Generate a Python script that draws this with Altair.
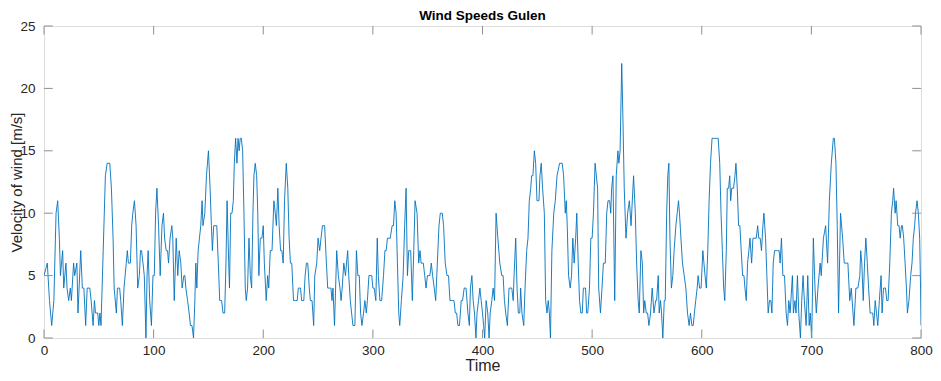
import altair as alt
import pandas as pd

# Readings (time index, wind speed in m/s)
time = [0, 3, 5, 7, 9, 11, 12.5, 14, 15, 17, 18, 20, 21, 22.5, 24, 25, 27, 28, 30, 31, 32, 33.5, 35, 36.4, 38, 39.4, 41.8, 43, 44.8, 46, 47, 49, 50, 51, 52, 54, 56, 57.6, 60, 61.5, 63, 64, 66, 67,
        69, 70, 71.5, 73, 75, 76, 77, 78.8, 80, 81, 82.5, 84, 85.5, 87, 88, 89, 90.3, 91.5, 93, 94, 95, 96.4, 98, 99.4, 100.6, 101.8, 103, 104.5, 106, 107.6, 109, 110, 111.5, 112.7, 113.6, 115, 116.6, 117.5, 118.8, 120.6, 122, 123.3, 124.8, 126, 127.6, 128.5, 129.4, 131, 132.4, 133.6,
        135, 136.4, 137.6, 138.5, 139.4, 140.6, 141.8, 143, 144.2, 145, 146.7, 148.2, 150, 151.5, 152.7, 153.6, 154.8, 157.6, 159, 160.3, 162, 163.3, 164.8, 166, 167, 168.5, 169.2, 170.3, 171.5, 172.7, 173.6, 174.8, 176, 177, 178, 179, 180, 181.2, 182.4, 183.6, 184.5, 185.7, 187, 188.2, 189.4, 190.6, 191.5, 192.7, 194, 195, 196, 197.3, 198.8, 200,
        201, 202.7, 204, 205, 206.4, 208, 209.7, 211, 212, 213.3, 214.5, 215.8, 217, 218.2, 219.4, 221, 222.4, 223.6, 224.8, 226, 227.6, 229.7, 231, 232, 234, 235, 237, 238.2, 239.4, 240.6, 242, 243, 244.5, 246, 247, 248.8, 250, 251.5, 252.7, 254, 256, 257.6, 258.8, 260.6, 261.8, 262.7, 263.6, 265,
        267, 268.5, 270, 271, 272, 273.5, 275, 277, 278, 279.4, 280.6, 281.8, 283.6, 285, 286.3, 287.6, 288.8, 290, 291.5, 292.7, 294, 295, 296.4, 299, 300, 301.2, 302.7, 304, 305, 306.4, 308, 309.7, 311, 312.1, 313.3, 315.8, 317.6, 318.8, 320, 321.2, 322.4, 323.6, 324.5, 326, 327.6, 329, 330.3, 331.5, 332.7, 334.5, 336,
        337.3, 338.5, 340.3, 341.8, 343, 344, 346, 347.3, 348.5, 349.8, 352, 353.3, 354.5, 356, 357.3, 358.8, 360.3, 361.5, 363.3, 364.5, 366, 367.6, 369, 370.3, 372.7, 374, 375.2, 376.4, 377.6, 379, 380.6, 381.8, 383.3, 385, 386.7, 388, 389, 390.3, 391.5, 392.7, 394, 395, 396.4, 397.6, 398.8, 400,
        401, 402, 403.3, 404.8, 406, 407, 408.5, 409.7, 411, 412.4, 414, 415.8, 417.6, 418.8, 420, 421.2, 422.7, 424.2, 426.7, 428, 428.8, 430.3, 431.5, 432.7, 434, 434.8, 436, 437.6, 438.8, 440.3, 441.5, 442.7, 444, 444.8, 446, 447.3, 448.5, 449.7, 451.5, 452.4, 453.6, 454.8, 456.4, 457.6, 458.8, 460, 461, 462, 463.3, 465, 466.4, 468,
        470.3, 472.7, 474, 475.5, 476.4, 477.3, 478.5, 480, 481.2, 482.4, 483.6, 485, 486, 487.3, 488.5, 489.7, 491, 492, 494, 495, 496, 497.6, 498.8, 500, 501.2, 502.7, 505, 506, 507.6, 509, 510.3, 512, 513.3, 514.5, 516, 517, 517.8, 519, 520.6, 522, 523.5, 524.4, 525.5, 527, 528, 529.3, 530.9, 532.4, 534,
        535.5, 537.8, 539.4, 540.6, 542, 543, 544.5, 545.8, 547, 548, 549.4, 550.6, 551.8, 553.3, 554.8, 556.4, 558, 558.8, 560.3, 561.2, 562.4, 563.3, 564.5, 565.8, 566.7, 568, 569, 570, 571, 572.3, 573.6, 574.8, 576.4, 577.6, 578.8, 579.7, 581, 582.4, 584, 585.5, 587, 588.5, 589.7, 591, 592.2, 593.3, 594.5, 595.8, 596.7, 598, 599.4, 601,
        603, 604.2, 605.5, 606.7, 608, 609.4, 611.5, 613.3, 615, 616.4, 617.6, 618.8, 620, 621, 622.4, 623.3, 624.5, 625.5, 626.4, 627.3, 629, 630.3, 631.2, 632.4, 633.6, 634.8, 636, 637.3, 638.5, 639.4, 640.6, 641.8, 643, 644, 645.5, 646.7, 648.5, 649.7, 651, 652, 653.3, 654.5, 655.8, 656.7, 658.2, 659.4, 660.6, 661.8, 663, 664, 665.2, 666.4, 668, 669, 670.6, 671.5, 672.7,
        674, 675.5, 677, 678.2, 679.4, 680.6, 682, 682.7, 683.6, 685, 686, 687.3, 688.5, 690, 691.2, 692.4, 693.6, 695.2, 696.7, 698, 699, 700.3, 701.8, 703.3, 704.5, 706, 708, 709, 711, 713, 714.8, 716.4, 718.2, 720, 721, 722.4, 723.6, 724.8, 726.6, 728.5, 730, 731.5, 733.3, 735,
        736.4, 738.8, 740.6, 742.4, 744.2, 745, 746, 747.3, 748.5, 749.7, 751, 752.2, 753.6, 755, 756, 757, 758.2, 759.4, 760.6, 762, 763.6, 764.5, 765.8, 767.6, 768.8, 770, 771.5, 773, 774.2, 775, 776.4, 777.3, 778.8, 780, 781, 782.2, 783, 784.2, 785.5, 786.7, 787.6, 789, 790.6, 791.8, 793, 794.2, 795, 796.4, 797.6, 798.8, 799.6, 800]

speed = [5, 6, 3, 1, 3, 10, 11, 8, 5, 7, 4, 6, 4, 3, 4, 3, 6, 5, 6, 2, 4, 7, 4, 4, 1, 4, 4, 3, 1, 3, 2, 2, 1, 2, 1, 7, 13, 14, 14, 12, 8, 4, 2, 4,
         4, 3, 1, 4, 6, 7, 6, 6, 9, 10, 11, 9, 4, 5, 7, 7, 6, 5, 0, 5, 7, 3, 1, 5, 5, 10, 12, 9, 5, 9, 10, 8, 7, 7, 6, 8, 9, 8, 3, 8, 5, 7, 6, 4, 5, 5, 4, 3, 2, 1,
         1, 0, 3, 6, 4, 7, 8, 9, 11, 9, 10, 13, 15, 12, 9, 7, 9, 9, 6, 3, 3, 2, 2, 6, 11, 6, 4, 10, 10, 11, 14, 16, 14, 16, 15, 16, 16, 15, 10, 4, 3, 4, 8, 5, 4, 10, 13, 14, 13, 10, 5, 8, 8, 9,
         6, 3, 5, 4, 7, 7, 11, 10, 9, 12, 9, 7, 7, 6, 11, 14, 12, 8, 6, 6, 3, 3, 3, 4, 4, 3, 3, 5, 6, 6, 4, 3, 3, 1, 5, 6, 8, 7, 8, 9, 9, 6, 4, 4, 4, 3, 4, 1,
         7, 5, 4, 3, 4, 6, 5, 7, 5, 3, 2, 1, 1, 7, 5, 5, 2, 1, 2, 3, 2, 3, 5, 5, 4, 4, 3, 8, 5, 3, 3, 5, 7, 7, 8, 8, 9, 9, 11, 10, 6, 2, 1, 3, 5, 9, 12, 5, 7, 7, 3,
         7, 11, 10, 6, 7, 6, 6, 5, 4, 5, 5, 6, 5, 4, 3, 6, 9, 10, 10, 9, 6, 5, 5, 3, 3, 3, 2, 2, 1, 1, 3, 3, 4, 4, 2, 1, 4, 5, 3, 2, 0, 2, 3, 4, 3, 2,
         1, 0, 3, 2, 0, 2, 3, 4, 3, 10, 8, 6, 5, 5, 3, 2, 1, 4, 4, 3, 5, 8, 4, 2, 2, 4, 2, 1, 4, 7, 8, 11, 12, 13, 13, 15, 14, 11, 11, 13, 14, 12, 10, 3, 2, 3, 2, 0, 7, 10, 11, 13,
         14, 14, 13, 10, 11, 9, 5, 4, 5, 8, 6, 8, 10, 6, 3, 2, 2, 4, 4, 2, 2, 4, 8, 8, 10, 14, 12, 4, 2, 4, 6, 6, 10, 11, 11, 10, 12, 13, 3, 13, 15, 14, 15, 22, 18, 12, 8, 10, 11,
         9, 13, 10, 6, 3, 2, 7, 6, 2, 3, 2, 2, 1, 2, 4, 2, 3, 3, 5, 2, 3, 2, 0, 3, 3, 10, 13, 14, 8, 4, 5, 7, 9, 10, 11, 10, 8, 6, 5, 4, 2, 1, 2, 1, 1, 2, 3, 4, 5, 4, 4, 7,
         5, 4, 7, 11, 14, 16, 16, 16, 16, 14, 10, 7, 4, 3, 7, 12, 12, 13, 11, 12, 12, 13, 14, 12, 9, 9, 7, 5, 5, 4, 3, 6, 7, 8, 6, 8, 8, 8, 9, 8, 8, 7, 9, 10, 8, 5, 2, 3, 3, 2, 6, 7, 7, 7, 7, 6, 8,
         5, 5, 2, 1, 3, 2, 4, 5, 2, 3, 2, 5, 2, 0, 3, 5, 3, 1, 5, 1, 2, 0, 8, 4, 2, 4, 6, 5, 8, 9, 6, 11, 14, 16, 16, 14, 9, 2, 10, 8, 6, 6, 6, 3,
         4, 1, 4, 4, 5, 7, 6, 3, 6, 8, 6, 4, 2, 2, 2, 1, 3, 2, 1, 3, 5, 2, 4, 4, 3, 3, 6, 10, 11, 12, 10, 11, 9, 9, 8, 9, 9, 8, 6, 4, 2, 3, 5, 6, 8, 9, 10, 11, 10, 8, 4, 1]

x_ticks = [0, 100, 200, 300, 400, 500, 600, 700, 800]
y_ticks = [0, 5, 10, 15, 20, 25]
chart_title = ["Wind Speeds Gulen"]

FONT = "Liberation Sans"
AX = "#8f8f8f"
TXT = "#262626"

df = pd.DataFrame({"Time": time, "Speed": speed})
xs = alt.Scale(domain=[0, 800], nice=False, zero=False)
ys = alt.Scale(domain=[0, 25], nice=False, zero=False)

line = alt.Chart(df).mark_line(color="#0072BD", strokeWidth=0.9, clip=True).encode(
    x=alt.X("Time:Q", scale=xs, axis=alt.Axis(
        values=x_ticks, title="Time", tickSize=0, domain=False, grid=False, labelFlush=False,
        labelFontSize=13.5, labelColor=TXT, labelFont=FONT, labelPadding=5,
        titleFontSize=16, titleFontWeight="normal", titleColor=TXT, titleFont=FONT, titlePadding=1)),
    y=alt.Y("Speed:Q", scale=ys, axis=alt.Axis(
        values=y_ticks, title="Velocity of wind [m/s]", tickSize=0, domain=False, grid=False, labelFlush=False,
        labelFontSize=13.5, labelColor=TXT, labelFont=FONT, labelPadding=9,
        titleFontSize=15, titleFontWeight="normal", titleColor=TXT, titleFont=FONT,
        titleX=-28, titleY=156, titleBaseline="middle", titleAngle=270)),
)

xt = pd.DataFrame({"t": x_ticks})
yt = pd.DataFrame({"v": y_ticks})

bottom_ticks = alt.Chart(xt).mark_rule(color=AX, strokeWidth=1).encode(
    x=alt.X("t:Q", scale=xs), y=alt.datum(0), y2=alt.datum(0.68))
top_ticks = alt.Chart(xt).mark_rule(color=AX, strokeWidth=1).encode(
    x=alt.X("t:Q", scale=xs), y=alt.datum(25), y2=alt.datum(24.32))
left_ticks = alt.Chart(yt).mark_rule(color=AX, strokeWidth=1).encode(
    y=alt.Y("v:Q", scale=ys), x=alt.datum(0), x2=alt.datum(8))
right_ticks = alt.Chart(yt).mark_rule(color=AX, strokeWidth=1).encode(
    y=alt.Y("v:Q", scale=ys), x=alt.datum(800), x2=alt.datum(792))

title_text = alt.Chart(pd.DataFrame({"label": chart_title})).mark_text(
    font=FONT, fontSize=13.5, fontWeight="bold", color="#000000",
    baseline="middle", align="center", dy=-10, clip=False,
).encode(x=alt.datum(400), y=alt.datum(25), text="label:N")

chart = alt.layer(line, bottom_ticks, top_ticks, left_ticks, right_ticks, title_text).properties(
    width=877, height=312,
    autosize=alt.AutoSizeParams(type="none"),
    padding={"left": 36, "top": 18, "right": 12, "bottom": 35},
).configure_view(stroke=AX, strokeWidth=1).configure(background="white")

chart.save("out.html", embed_options={"renderer": "svg", "actions": False})
